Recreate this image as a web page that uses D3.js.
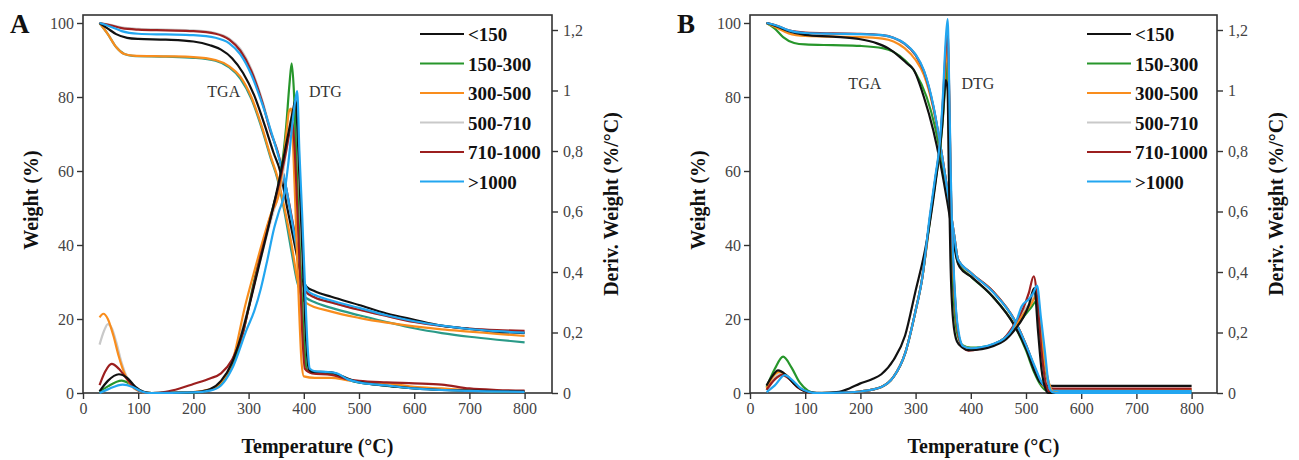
<!DOCTYPE html>
<html>
<head>
<meta charset="utf-8">
<script src="https://cdn.jsdelivr.net/npm/d3@7"></script>
<style>
  body { margin: 0; background: #fff; }
  svg text { font-family: "Liberation Serif", "Times New Roman", serif; }
</style>
</head>
<body>
<svg id="chart" width="1299" height="460"></svg>
<script>
// ---- data ----
const seriesNames = ["<150", "150-300", "300-500", "500-710", "710-1000", ">1000"];
const seriesColors = ["#111111", "#27962b", "#f98d1d", "#c9c9c9", "#9c1f1f", "#22a6f0"];
const tempTicks = [0, 100, 200, 300, 400, 500, 600, 700, 800];
const weightTicks = [0, 20, 40, 60, 80, 100];
const derivTicks = [0, 0.2, 0.4, 0.6, 0.8, 1, 1.2];

// panel A, TGA (weight %)
const A_tga_lt150 = [[30,100],[45,98.5],[60,97],[80,96],[100,95.7],[150,95.5],[200,95],[230,94],[250,92.8],[270,90.5],[290,86.5],[310,80.5],[330,72],[345,65],[357,60],[370,50],[385,39],[395,32],[405,28.7],[420,27.5],[450,26],[500,23.8],[550,21.5],[600,19.8],[650,18.2],[700,17.3],[750,16.6],[800,16.2]];
const A_tga_150_300 = [[30,100],[45,97],[60,93.5],[75,91.6],[90,91.1],[150,90.9],[200,90.6],[240,89.8],[265,88],[285,85],[305,79.5],[325,71],[340,63.5],[352,58],[365,49],[378,38],[388,30],[398,26.5],[420,24.5],[450,23],[500,21],[550,19.2],[600,17.5],[650,16.2],[700,15.2],[750,14.4],[800,13.7]];
const A_tga_300_500 = [[30,100],[45,97],[60,93.5],[75,91.6],[90,91.2],[150,91],[200,90.8],[240,90],[265,88.3],[285,85.5],[305,80],[325,71.5],[340,64],[352,58.5],[365,50],[378,40],[388,31],[396,26],[405,24.3],[450,22],[500,20.3],[550,19],[600,18],[650,17.2],[700,16.6],[750,16],[800,15.4]];
const A_tga_500_710 = [[30,100],[50,99.5],[70,98.8],[100,98.4],[150,98.2],[200,98],[240,97.3],[265,95.8],[285,93],[305,87.5],[325,79],[340,71],[352,65.5],[363,59],[375,50],[387,40],[396,31],[404,27.5],[420,25.8],[450,24.5],[500,22.6],[550,20.8],[600,19.3],[650,18.2],[700,17.4],[750,16.8],[800,16.4]];
const A_tga_710_1000 = [[30,100],[50,99.4],[70,98.6],[100,98.2],[150,98],[200,97.8],[240,97.1],[265,95.5],[285,92.5],[305,87],[325,78.5],[340,70.5],[352,65.5],[363,59],[375,50],[387,40],[396,31],[403,27.5],[420,25.8],[450,24.5],[500,22.5],[550,20.8],[600,19.2],[650,18.1],[700,17.4],[750,17],[800,16.8]];
const A_tga_gt1000 = [[30,100],[50,99],[70,97.8],[100,97.1],[150,96.9],[200,96.7],[240,96],[265,94.5],[285,91.5],[305,86],[325,78],[340,71],[355,63.5],[366,57],[378,47],[390,37],[400,30.5],[408,27.5],[420,26.5],[450,25],[500,23],[550,21],[600,19.4],[650,18.2],[700,17.3],[750,16.7],[800,16.3]];

// panel A, DTG (%/°C)
const A_dtg_lt150 = [[30,0.005],[45,0.04],[65,0.062],[80,0.05],[95,0.02],[110,0.004],[125,0],[180,0.001],[210,0.004],[230,0.012],[250,0.04],[270,0.1],[285,0.18],[300,0.28],[320,0.43],[340,0.58],[355,0.7],[370,0.84],[380,0.93],[385,0.97],[389,0.85],[394,0.62],[399,0.4],[404,0.18],[409,0.08],[415,0.07],[430,0.07],[450,0.068],[470,0.055],[490,0.04],[520,0.03],[560,0.022],[600,0.015],[650,0.01],[700,0.008],[800,0.005]];
const A_dtg_150_300 = [[30,0.004],[45,0.022],[70,0.041],[85,0.03],[100,0.01],[115,0.001],[125,0],[200,0.002],[230,0.01],[250,0.03],[270,0.09],[290,0.2],[310,0.37],[330,0.52],[345,0.62],[358,0.72],[368,0.88],[374,1.02],[378,1.09],[382,1.0],[386,0.8],[391,0.55],[396,0.33],[401,0.15],[406,0.075],[420,0.07],[450,0.066],[470,0.052],[490,0.038],[520,0.03],[600,0.016],[700,0.008],[800,0.004]];
const A_dtg_300_500 = [[30,0.25],[37,0.262],[45,0.245],[55,0.19],[65,0.12],[75,0.065],[85,0.03],[100,0.008],[120,0],[200,0.003],[230,0.012],[250,0.035],[270,0.1],[294,0.29],[310,0.4],[322,0.48],[340,0.59],[355,0.66],[365,0.8],[370,0.885],[373,0.93],[377,0.94],[381,0.8],[386,0.55],[391,0.3],[396,0.1],[400,0.055],[420,0.05],[450,0.05],[480,0.042],[520,0.035],[560,0.03],[600,0.02],[650,0.015],[700,0.01],[800,0.005]];
const A_dtg_500_710 = [[30,0.16],[38,0.205],[45,0.228],[52,0.215],[60,0.17],[70,0.1],[80,0.05],[90,0.02],[105,0.004],[120,0],[200,0.003],[230,0.012],[250,0.035],[270,0.1],[290,0.22],[310,0.36],[330,0.5],[345,0.6],[358,0.68],[370,0.82],[380,0.92],[385,0.8],[390,0.58],[395,0.36],[400,0.16],[405,0.08],[420,0.066],[450,0.064],[480,0.045],[520,0.03],[600,0.016],[700,0.008],[800,0.004]];
const A_dtg_710_1000 = [[30,0.026],[40,0.07],[52,0.096],[65,0.08],[80,0.045],[95,0.015],[110,0.002],[125,0],[150,0.004],[175,0.015],[200,0.03],[230,0.048],[250,0.065],[270,0.11],[290,0.2],[300,0.28],[320,0.44],[340,0.58],[355,0.69],[368,0.8],[374,0.86],[379,0.896],[383,0.82],[388,0.62],[393,0.4],[398,0.17],[402,0.08],[415,0.065],[450,0.06],[480,0.045],[500,0.04],[550,0.035],[600,0.032],[650,0.028],[700,0.015],[750,0.01],[800,0.008]];
const A_dtg_gt1000 = [[30,0],[45,0.012],[72,0.028],[90,0.02],[105,0.006],[120,0],[200,0.002],[230,0.008],[250,0.025],[270,0.08],[297,0.212],[310,0.27],[322,0.344],[334,0.44],[346,0.543],[355,0.6],[364,0.653],[372,0.76],[379,0.885],[384,0.96],[388,0.998],[392,0.8],[397,0.59],[402,0.36],[407,0.15],[411,0.08],[420,0.072],[440,0.07],[460,0.065],[480,0.045],[500,0.035],[550,0.025],[600,0.015],[700,0.007],[800,0.004]];

// panel B, TGA (weight %)
const B_tga_lt150 = [[30,100],[50,99],[70,97.8],[100,96.8],[150,96.3],[200,95.6],[230,94.5],[250,93.2],[270,91],[285,89],[296,87.5],[315,80],[332,71],[345,62],[357,52],[367,43],[374,36.5],[380,34],[400,31.5],[440,26],[480,18],[500,12],[515,6],[525,3],[535,2.1],[550,1.9],[650,1.9],[800,1.9]];
const B_tga_150_300 = [[30,100],[45,98.5],[60,96.2],[80,94.6],[100,94.2],[150,94],[200,93.8],[240,93.2],[260,92.2],[280,90],[300,86.5],[320,80],[335,72],[348,62],[360,51],[370,41],[377,35],[400,31.5],[440,26],[480,18],[500,11.5],[515,5.5],[525,2.5],[535,0.8],[545,0.5],[800,0.5]];
const B_tga_300_500 = [[30,100],[50,98.6],[70,97.2],[100,96.5],[150,96.3],[200,96.2],[240,95.8],[260,95],[280,93.2],[300,90],[315,86],[332,77],[347,65],[360,52.5],[370,42.5],[377,36],[400,32.5],[440,27.5],[480,19.5],[500,13],[515,7],[528,2.5],[540,1.1],[550,0.9],[800,0.9]];
const B_tga_500_710 = [[30,100],[50,99.2],[70,98],[100,97.3],[150,97.1],[200,97],[240,96.6],[260,95.9],[280,94.3],[300,91.3],[315,87],[332,77.5],[347,65],[360,52.5],[370,42.5],[377,36],[400,32.5],[440,27.5],[480,19.5],[500,13],[515,7.2],[528,2.8],[540,1.2],[550,0.9],[800,0.9]];
const B_tga_710_1000 = [[30,100],[50,99.2],[70,98],[100,97.4],[150,97.2],[200,97.1],[240,96.7],[260,96],[280,94.4],[300,91.3],[315,87],[332,77.5],[347,65],[360,52.5],[370,42.5],[377,36],[400,32.5],[440,27.5],[480,19.5],[500,13],[515,7],[528,2.6],[540,1.4],[550,1.2],[800,1.2]];
const B_tga_gt1000 = [[30,100],[50,99.2],[70,98],[100,97.3],[150,97.1],[200,97],[240,96.7],[260,96],[280,94.5],[300,91.5],[315,87.2],[332,77.8],[347,65],[360,52.5],[370,42.5],[377,36],[400,32.5],[440,27.3],[480,19.5],[500,13],[515,7.5],[528,3],[540,1],[550,0.6],[800,0.5]];

// panel B, DTG (%/°C)
const B_dtg_lt150 = [[30,0.025],[40,0.055],[51,0.075],[65,0.06],[80,0.03],[95,0.01],[110,0.002],[130,0],[157,0.003],[180,0.015],[199,0.031],[220,0.045],[238,0.062],[260,0.109],[281,0.19],[299,0.33],[320,0.5],[335,0.68],[348,0.88],[355,1.034],[358,1.0],[360,0.75],[363,0.45],[368,0.24],[375,0.17],[385,0.15],[395,0.142],[420,0.145],[440,0.155],[460,0.172],[480,0.21],[495,0.25],[505,0.29],[515,0.347],[522,0.2],[528,0.08],[535,0.015],[540,0],[800,0]];
const B_dtg_150_300 = [[30,0.02],[45,0.08],[60,0.12],[75,0.085],[90,0.035],[105,0.008],[120,0],[180,0.002],[200,0.005],[238,0.02],[260,0.053],[281,0.131],[299,0.264],[312,0.38],[326,0.57],[336,0.7],[344,0.8],[350,0.92],[354,1.03],[357,1.095],[360,0.9],[363,0.6],[367,0.38],[372,0.24],[378,0.18],[385,0.158],[400,0.15],[420,0.152],[440,0.16],[460,0.18],[480,0.215],[495,0.25],[508,0.28],[519,0.303],[526,0.2],[534,0.09],[542,0.025],[548,0.003],[560,0],[800,0]];
const B_dtg_300_500 = [[30,0.015],[42,0.055],[54,0.07],[68,0.055],[82,0.028],[98,0.008],[115,0],[180,0.002],[200,0.005],[238,0.02],[260,0.053],[281,0.131],[299,0.264],[312,0.38],[326,0.58],[336,0.71],[344,0.82],[350,0.96],[354,1.08],[358,1.14],[361,0.95],[364,0.65],[368,0.42],[373,0.26],[378,0.19],[386,0.155],[400,0.148],[420,0.15],[440,0.16],[460,0.18],[480,0.22],[495,0.26],[508,0.29],[519,0.32],[526,0.22],[534,0.1],[542,0.03],[548,0.004],[560,0],[800,0]];
const B_dtg_500_710 = [[30,0.01],[45,0.05],[58,0.065],[70,0.05],[85,0.022],[100,0.006],[115,0],[180,0.002],[200,0.005],[238,0.02],[260,0.053],[281,0.131],[299,0.264],[312,0.38],[326,0.58],[336,0.71],[344,0.82],[350,0.97],[354,1.1],[358,1.17],[361,0.97],[364,0.66],[368,0.43],[373,0.27],[378,0.19],[386,0.155],[400,0.148],[420,0.15],[440,0.16],[460,0.18],[480,0.225],[495,0.27],[508,0.3],[518,0.33],[526,0.22],[534,0.1],[542,0.03],[548,0.004],[560,0],[800,0]];
const B_dtg_710_1000 = [[30,0.01],[45,0.045],[58,0.06],[72,0.045],[85,0.02],[100,0.005],[115,0],[180,0.002],[200,0.005],[238,0.02],[260,0.053],[281,0.131],[299,0.264],[312,0.38],[326,0.58],[336,0.71],[344,0.82],[350,0.98],[354,1.12],[358,1.195],[361,0.98],[364,0.67],[368,0.43],[373,0.27],[378,0.19],[386,0.15],[396,0.14],[420,0.148],[440,0.16],[460,0.18],[480,0.23],[495,0.28],[505,0.33],[514,0.386],[521,0.3],[528,0.14],[535,0.04],[542,0.005],[550,0],[800,0]];
const B_dtg_gt1000 = [[30,0.003],[45,0.025],[63,0.059],[78,0.04],[92,0.015],[108,0.003],[120,0],[180,0.002],[200,0.005],[238,0.02],[260,0.053],[281,0.131],[299,0.264],[312,0.38],[326,0.59],[336,0.72],[344,0.83],[350,1.0],[354,1.15],[358,1.236],[361,1.0],[364,0.7],[368,0.45],[373,0.28],[378,0.2],[386,0.155],[400,0.148],[420,0.152],[440,0.162],[460,0.18],[475,0.21],[485,0.25],[492,0.286],[505,0.31],[513,0.33],[520,0.355],[527,0.25],[534,0.142],[542,0.02],[548,0.003],[560,0],[800,0]];

// ---- layout ----
const plotTop = 15, plotBottom = 393;
const panels = [
  { letter: "A", left: 83, right: 552,
    tga: [A_tga_lt150, A_tga_150_300, A_tga_300_500, A_tga_500_710, A_tga_710_1000, A_tga_gt1000],
    dtg: [A_dtg_lt150, A_dtg_150_300, A_dtg_300_500, A_dtg_500_710, A_dtg_710_1000, A_dtg_gt1000],
    tgaGreen: "#2a9a88", tgaLabel: [255, 80], dtgLabel: [439, 80] },
  { letter: "B", left: 750, right: 1217,
    tga: [B_tga_lt150, B_tga_150_300, B_tga_300_500, B_tga_500_710, B_tga_710_1000, B_tga_gt1000],
    dtg: [B_dtg_lt150, B_dtg_150_300, B_dtg_300_500, B_dtg_500_710, B_dtg_710_1000, B_dtg_gt1000],
    tgaGreen: "#27962b", tgaLabel: [208, 82.2], dtgLabel: [413, 82.2] }
];
const drawOrder = [3, 1, 2, 4, 0, 5];

const svg = d3.select("#chart");
const fmtDeriv = (d) => (d === 0 ? "0" : d === 1 ? "1" : d3.format(".1f")(d).replace(".", ","));

panels.forEach((p) => {
  const g = svg.append("g");
  const x = d3.scaleLinear().domain([0, 800]).range([p.left, p.left + 441.6]);
  const yW = d3.scaleLinear().domain([0, 100]).range([plotBottom, plotBottom - 370]);
  const yD = d3.scaleLinear().domain([0, 1.2]).range([plotBottom, plotBottom - 363]);

  // axes
  const styleAxis = (sel) => {
    sel.select(".domain").remove();
    sel.selectAll(".tick line").attr("stroke", "#333").attr("stroke-width", 1.4);
    sel.selectAll(".tick text").attr("fill", "#444").style("font-size", "16px")
      .style("font-family", "'Liberation Serif', serif");
  };
  g.append("g").attr("transform", `translate(0,${plotBottom})`)
    .call(d3.axisBottom(x).tickValues(tempTicks).tickSize(6).tickPadding(4))
    .call(styleAxis);
  g.append("g").attr("transform", `translate(${p.left},0)`)
    .call(d3.axisLeft(yW).tickValues(weightTicks).tickSize(6).tickPadding(3))
    .call(styleAxis);
  g.append("g").attr("transform", `translate(${p.right},0)`)
    .call(d3.axisRight(yD).tickValues(derivTicks).tickFormat(fmtDeriv).tickSize(6).tickPadding(5))
    .call(styleAxis);

  // frame
  g.append("rect")
    .attr("x", p.left).attr("y", plotTop)
    .attr("width", p.right - p.left).attr("height", plotBottom - plotTop)
    .attr("fill", "none").attr("stroke", "#333").attr("stroke-width", 1.6);

  // curves
  const lineW = d3.line().x((d) => x(d[0])).y((d) => yW(d[1])).curve(d3.curveMonotoneX);
  const lineD = d3.line().x((d) => x(d[0])).y((d) => yD(d[1])).curve(d3.curveMonotoneX);
  drawOrder.forEach((i) => {
    g.append("path").datum(p.tga[i])
      .attr("d", lineW).attr("fill", "none")
      .attr("stroke", i === 1 ? p.tgaGreen : seriesColors[i])
      .attr("stroke-width", 2.2).attr("stroke-linejoin", "round");
  });
  drawOrder.forEach((i) => {
    g.append("path").datum(p.dtg[i])
      .attr("d", lineD).attr("fill", "none")
      .attr("stroke", seriesColors[i])
      .attr("stroke-width", 2.2).attr("stroke-linejoin", "round");
  });

  // TGA / DTG labels
  g.append("text").attr("x", x(p.tgaLabel[0])).attr("y", yW(p.tgaLabel[1]))
    .attr("text-anchor", "middle").style("font-size", "16px").attr("fill", "#333").text("TGA");
  g.append("text").attr("x", x(p.dtgLabel[0])).attr("y", yW(p.dtgLabel[1]))
    .attr("text-anchor", "middle").style("font-size", "16px").attr("fill", "#333").text("DTG");

  // legend
  const leg = g.append("g").attr("transform", `translate(${p.left + 337},${plotTop + 19})`);
  seriesNames.forEach((name, i) => {
    const row = leg.append("g").attr("transform", `translate(0,${i * 29.5})`);
    row.append("line").attr("x1", 0).attr("x2", 44).attr("y1", 0).attr("y2", 0)
      .attr("stroke", seriesColors[i]).attr("stroke-width", 2.2);
    row.append("text").attr("x", 48).attr("y", 7)
      .style("font-size", "19px").style("font-weight", "bold").attr("fill", "#111").text(name);
  });

  // axis titles
  g.append("text").attr("x", (p.left + p.right) / 2).attr("y", 453)
    .attr("text-anchor", "middle").style("font-size", "20px").style("font-weight", "bold")
    .attr("fill", "#111").text("Temperature (°C)");
  g.append("text").attr("transform", `translate(${p.left - 45},200) rotate(-90)`)
    .attr("text-anchor", "middle").style("font-size", "20px").style("font-weight", "bold")
    .attr("fill", "#111").text("Weight (%)");
  g.append("text").attr("transform", `translate(${p.right + 66},204) rotate(-90)`)
    .attr("text-anchor", "middle").style("font-size", "20px").style("font-weight", "bold")
    .attr("fill", "#111").text("Deriv. Weight (%/°C)");

  // panel letter
  g.append("text").attr("x", p.left - 73).attr("y", 33)
    .style("font-size", "27px").style("font-weight", "bold").attr("fill", "#111").text(p.letter);
});
</script>
</body>
</html>
